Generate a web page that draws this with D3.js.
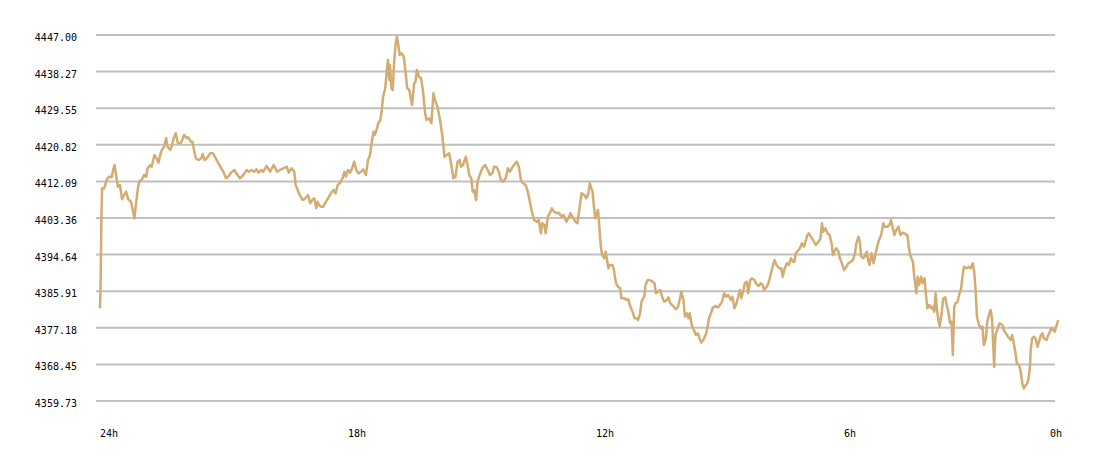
<!DOCTYPE html>
<html><head><meta charset="utf-8">
<script src="https://cdn.jsdelivr.net/npm/d3@7"></script>
<style>html,body{margin:0;padding:0;background:#fff;} svg{display:block}</style>
</head><body><svg id="chart" width="1100" height="458"></svg>
<script>
// Y axis tick values (price)
const yTickValues = [4359.73,4368.45,4377.18,4385.91,4394.64,4403.36,4412.09,4420.82,4429.55,4438.27,4447.00];
// X axis ticks: minutes since start of the 24h window
const xTickMinutes = [0,360,720,1080,1440];
const xTickLabels = ["24h","18h","12h","6h","0h"];
// Price series: [minutes since start, price]
const priceSeries = [
[0,4381.83],[1,4389.06],[2,4402.89],[3,4410.45],[6,4410.45],[10,4412.59],[13,4413.21],[17,4413.07],[19,4414.81],[21,4416.00],
[23,4414.02],[26,4410.83],[29,4411.23],[32,4407.82],[35,4408.85],[38,4409.64],[41,4407.82],[45,4407.25],[47,4405.68],[50,4403.29],
[52,4406.46],[55,4410.45],[57,4412.02],[61,4412.59],[64,4413.62],[67,4413.21],[69,4415.22],[73,4416.00],[75,4415.60],[79,4418.39],
[82,4417.60],[85,4416.55],[88,4418.79],[91,4419.98],[93,4420.37],[96,4422.37],[98,4420.37],[102,4419.58],[105,4421.01],[107,4422.37],
[110,4423.56],[113,4421.18],[117,4421.18],[119,4421.80],[122,4423.16],[126,4422.37],[128,4422.61],[132,4421.56],[134,4421.56],[136,4419.98],
[139,4417.60],[143,4417.19],[147,4417.60],[149,4418.63],[152,4417.19],[155,4417.60],[160,4418.79],[164,4418.79],[168,4417.60],[172,4416.41],
[176,4415.22],[179,4414.40],[183,4412.83],[186,4413.21],[190,4414.17],[195,4414.81],[198,4414.02],[203,4412.83],[208,4413.62],[213,4414.81],
[216,4414.40],[220,4414.81],[224,4414.40],[227,4414.98],[230,4414.17],
[234,4414.81],[237,4414.40],[242,4415.76],[247,4414.40],[252,4416.00],[257,4414.40],[261,4414.81],[266,4415.22],[271,4415.60],[274,4414.17],
[278,4415.22],[282,4414.40],[284,4411.23],[287,4410.04],[290,4408.85],[294,4407.66],[298,4408.06],[302,4408.85],[305,4406.87],[308,4407.66],
[311,4408.06],[314,4405.68],[316,4407.25],[318,4406.46],[321,4406.06],[324,4406.06],[328,4407.25],[331,4408.06],[335,4409.25],[339,4410.04],
[342,4409.25],[345,4411.23],[348,4411.64],[352,4412.83],[355,4414.40],[357,4413.21],[360,4414.81],[363,4414.17],[366,4415.22],[369,4416.79],
[372,4414.81],[375,4414.02],[379,4414.40],[382,4414.98],[386,4413.62],[389,4417.19],[392,4418.39],[394,4420.77],[397,4423.94],[399,4423.16],
[402,4424.75],[404,4425.95],[407,4426.73],[409,4429.12],[411,4432.29],[414,4434.29],[416,4437.87],[418,4441.04],[420,4436.27],[421,4439.85],
[423,4434.29],[425,4433.89],[427,4440.63],[429,4444.62],[431,4446.59],[433,4444.62],[435,4442.23],[438,4442.64],[441,4441.83],[444,4437.46],
[446,4434.29],[449,4433.89],[451,4431.91],[453,4430.31],[456,4435.48],[458,4435.86],[460,4438.65],[463,4437.06],[466,4436.75],
[469,4433.48],[472,4428.33],[474,4426.73],[478,4427.14],[481,4425.95],[484,4433.10],[487,4431.10],[490,4429.90],[494,4426.33],[497,4422.75],
[500,4417.98],[503,4418.39],[507,4418.79],[510,4416.00],[513,4412.83],[516,4413.21],[519,4416.79],[522,4417.19],[524,4415.60],[527,4416.00],
[531,4417.98],[534,4415.60],[536,4413.62],[539,4412.83],[541,4409.64],[543,4410.04],[546,4407.66],[548,4412.02],[552,4414.02],[555,4415.22],
[559,4416.00],[563,4414.81],[566,4413.62],[570,4414.17],[572,4415.60],[576,4415.45],[579,4414.40],[582,4412.43],[585,4412.02],[589,4412.83],
[592,4415.22],[595,4414.40],[599,4415.60],[603,4416.41],[605,4416.79],[608,4415.60],[611,4412.43],[614,4411.64],[618,4411.23],[621,4409.64],
[624,4407.25],[627,4404.87],[630,4402.89],[634,4402.48],[637,4402.89],[640,4399.72],[642,4402.10],[645,4401.70],[647,4399.72],[650,4403.67],
[653,4404.49],[656,4405.68],[659,4404.87],[663,4404.49],[666,4404.63],[670,4403.67],[673,4404.08],[677,4402.48],[681,4403.67],[683,4404.49],
[687,4403.29],[690,4402.48],[693,4402.10],
[697,4406.87],[699,4409.25],[703,4408.85],[706,4408.06],[709,4409.25],[711,4411.64],[715,4409.64],[717,4406.06],[719,4403.29],[721,4404.49],
[723,4405.27],[725,4400.91],[727,4396.52],[729,4394.54],[732,4393.76],[734,4395.33],[736,4393.35],[738,4391.37],[740,4392.16],[744,4392.16],
[746,4390.97],[749,4387.79],[752,4386.98],[755,4386.60],[757,4384.22],[761,4384.22],[764,4383.81],[767,4383.98],[769,4382.62],[773,4381.02],
[776,4379.45],[779,4379.45],[781,4379.04],[784,4380.64],[786,4383.41],[790,4384.60],[792,4387.39],[795,4388.58],[798,4388.58],[802,4388.18],
[805,4387.79],[807,4385.41],[810,4385.79],[813,4386.20],[816,4384.60],[819,4383.41],[823,4383.81],[825,4384.46],[828,4383.03],[832,4382.38],
[836,4381.59],[839,4382.22],[842,4384.22],[844,4385.79],[847,4383.81],[849,4379.83],[852,4380.64],[854,4379.45],[856,4380.64],[859,4377.85],
[862,4376.66],[865,4375.47],[868,4375.87],[871,4374.27],[873,4373.63],[877,4374.68],[880,4375.87],[882,4377.45],[884,4379.45],[887,4380.64],
[889,4381.83],[893,4382.38],[897,4382.07],[900,4382.62],[903,4383.41],[906,4385.41],[909,4384.60],[912,4385.00],[916,4383.81],[918,4384.60],
[921,4381.83],[924,4383.03],[929,4386.20],[931,4384.22],[934,4386.20],
[936,4387.79],[939,4388.18],[941,4385.41],[944,4388.58],[946,4388.99],[950,4388.58],[952,4387.79],[956,4387.15],[959,4387.79],[962,4387.39],
[964,4386.20],[968,4386.98],[971,4388.18],[974,4390.18],[977,4392.16],[979,4393.35],[982,4392.16],[986,4391.37],[989,4391.37],[991,4389.37],
[994,4391.37],[997,4392.56],[1000,4392.16],[1003,4393.76],[1006,4392.94],[1008,4392.94],[1010,4394.95],[1014,4395.73],[1016,4396.14],[1019,4397.33],
[1022,4396.52],[1024,4397.71],[1027,4399.31],[1029,4399.72],[1032,4398.91],[1035,4398.12],[1039,4396.93],[1043,4397.71],[1046,4398.52],[1048,4402.10],
[1050,4400.10],[1053,4400.91],[1056,4399.72],[1059,4399.31],[1062,4397.33],[1064,4394.54],[1067,4395.73],[1069,4396.14],[1072,4395.33],[1074,4393.76],
[1077,4392.56],[1080,4390.97],[1083,4391.61],[1086,4392.56],[1090,4392.94],[1093,4393.35],[1096,4394.95],[1098,4397.33],[1101,4398.91],[1103,4397.71],
[1105,4394.14],[1108,4393.76],[1110,4394.14],[1113,4395.33],[1115,4393.35],[1117,4392.16],[1120,4394.95],[1123,4392.56],[1125,4394.14],[1127,4395.73],
[1130,4397.71],[1132,4398.52],[1134,4399.31],[1137,4402.10],[1139,4401.29],[1143,4401.29],[1146,4401.70],[1148,4402.89],[1151,4400.91],[1153,4399.31],
[1156,4400.50],[1159,4401.29],[1162,4399.31],[1165,4399.86],[1169,4399.55],[1172,4399.31],[1174,4396.52],[1176,4394.54],[1180,4392.94],[1182,4389.37],
[1185,4385.41],[1187,4389.37],[1189,4387.39],[1192,4389.37],[1194,4387.79],[1197,4388.99],[1199,4385.00],[1201,4381.83],[1204,4382.62],[1207,4381.83],
[1209,4382.22],[1211,4381.02],[1213,4385.41],[1215,4381.43],[1217,4379.04],[1219,4377.45],[1222,4381.02],[1224,4384.22],[1227,4384.46],[1229,4382.62],
[1231,4381.43],[1234,4378.26],[1236,4378.64],[1238,4370.70],[1240,4382.22],[1242,4383.03],[1245,4383.41],[1247,4385.00],[1250,4386.60],[1252,4389.37],
[1254,4391.75],[1258,4391.37],[1261,4391.75],[1264,4391.37],[1267,4392.56],[1269,4390.56],[1271,4386.20],[1273,4379.83],[1276,4377.85],[1279,4377.06],
[1281,4377.45],[1283,4373.08],[1286,4374.68],[1288,4378.64],[1291,4380.64],[1293,4381.43],[1295,4379.04],[1298,4367.91],[1299,4372.68],[1300,4375.47],
[1303,4377.06],[1306,4378.26],[1310,4377.85],[1312,4376.66],[1315,4375.87],[1318,4375.06],[1322,4374.27],[1324,4375.47],[1326,4373.87],[1329,4371.10],
[1331,4368.72],[1334,4368.31],[1336,4367.12],[1339,4363.95],[1341,4362.76],[1344,4363.54],[1346,4363.95],[1348,4365.14],[1350,4367.91],[1351,4371.89],
[1353,4374.68],[1356,4375.06],[1358,4374.68],[1361,4372.68],[1363,4373.87],[1366,4375.47],[1368,4375.87],[1370,4374.68],[1374,4374.27],[1376,4375.23],
[1379,4376.25],[1381,4377.06],[1384,4376.66],[1386,4376.25],[1388,4377.45],[1391,4379.04]
];

const W = 1100, H = 458;
const gridLeft = 96, gridRight = 1055;
const svg = d3.select("#chart");
const x = d3.scaleLinear().domain([0, 1440]).range([100, 1092]);
const y = d3.scaleLinear().domain([4359.73, 4447.00]).range([401, 35]);
const font = "'DejaVu Sans Mono', 'Liberation Mono', monospace";

// gridlines
svg.append("g").selectAll("line").data(yTickValues).join("line")
  .attr("x1", gridLeft).attr("x2", gridRight)
  .attr("y1", d => y(d)).attr("y2", d => y(d))
  .attr("stroke", "#c0c0c0").attr("stroke-width", 2);

// y labels
svg.append("g").selectAll("text").data(yTickValues).join("text")
  .attr("x", 77).attr("y", d => y(d) + 6)
  .attr("text-anchor", "end")
  .attr("font-family", font).attr("font-size", 10).attr("fill", "#000")
  .text(d => d.toFixed(2));

// x labels
svg.append("g").selectAll("text").data(xTickMinutes).join("text")
  .attr("x", d => Math.min(x(d), gridRight - 5)).attr("y", 437)
  .attr("text-anchor", "start")
  .attr("font-family", font).attr("font-size", 10).attr("fill", "#000")
  .text((d, i) => xTickLabels[i]);

// price line
const line = d3.line().x(d => x(d[0])).y(d => y(d[1]));
svg.append("path").datum(priceSeries)
  .attr("d", line)
  .attr("fill", "none")
  .attr("stroke", "#d4ac71")
  .attr("stroke-width", 2.5)
  .attr("stroke-linejoin", "round");
</script>
</body></html>
